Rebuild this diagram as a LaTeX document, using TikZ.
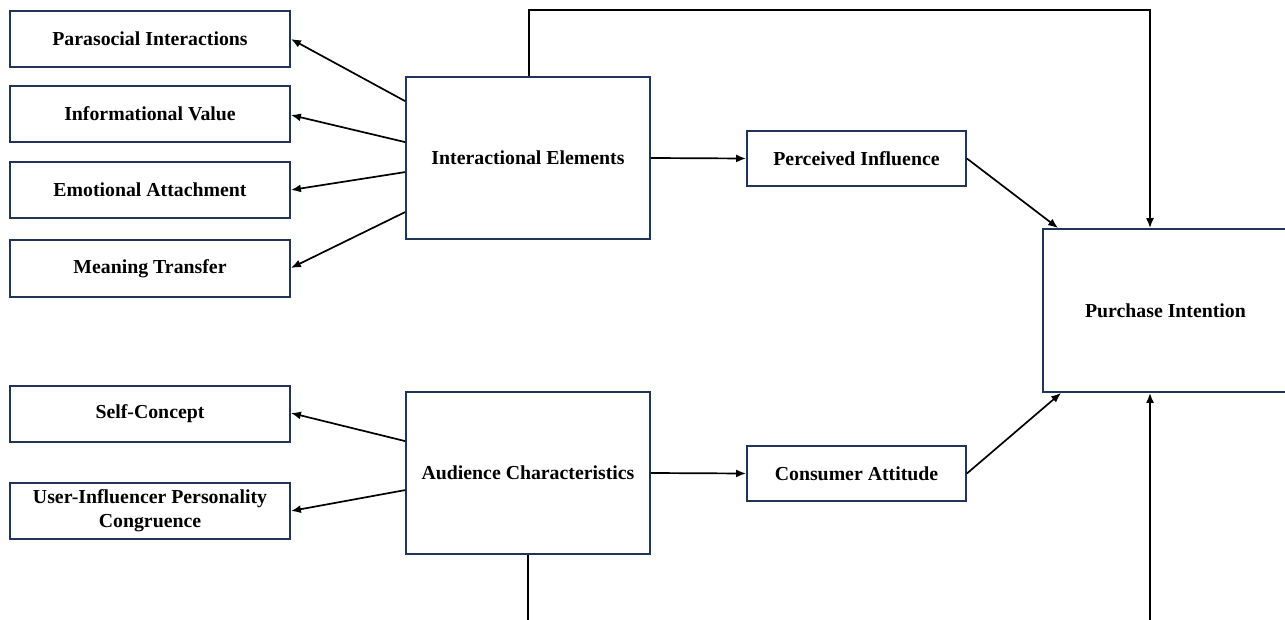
\documentclass[tikz,border=0pt]{standalone}
\usepackage{fontspec}
\setmainfont{Liberation Serif}
\usetikzlibrary{arrows.meta,calc}
\definecolor{boxline}{HTML}{1F3458}
\begin{document}
\begin{tikzpicture}[x=1pt,y=-1pt,
  box/.style={draw=boxline,line width=1.8pt,fill=white,inner sep=0pt,
    font=\fontsize{19.8}{24}\selectfont\bfseries,align=center},
  leftbox/.style={box,minimum width=280pt,minimum height=56pt},
  midbox/.style={box,minimum width=219pt,minimum height=55pt},
  bigbox/.style={box,minimum width=244pt,minimum height=162pt},
  arr/.style={line width=1.7pt,-{Latex[length=10pt,width=8pt]}}]
\useasboundingbox (0,0) rectangle (1285,620);
\fill[white] (0,0) rectangle (1285,620);

\node[leftbox] (par) at (150,39) {Parasocial Interactions};
\node[leftbox] (inf) at (150,114) {Informational Value};
\node[leftbox] (emo) at (150,190) {Emotional Attachment};
\node[leftbox,minimum height=57pt] (mea) at (150,268.5) {Meaning Transfer};
\node[leftbox] (self) at (150,414) {Self-Concept};
\node[leftbox] (uic) at (150,511) {User-Influencer Personality\\Congruence};

\node[bigbox] (ie) at (528,158) {Interactional Elements};
\node[bigbox] (ac) at (528,473) {Audience Characteristics};

\node[midbox] (pinf) at (856.5,158.5) {Perceived Influence};
\node[midbox] (ca) at (856.5,473.5) {Consumer Attitude};

\node[box,minimum width=245pt,minimum height=163pt] (pur) at (1165.5,310.5) {Purchase Intention};

\coordinate (tr) at (1150,10);
\coordinate (br) at (1150,620.5);

\draw[arr] ($(ie.north west)+(0,25)$) -- (par.east);
\draw[arr] ($(ie.north west)+(0,66)$) -- ($(inf.east)+(0,1)$);
\draw[arr] ($(ie.north west)+(0,96)$) -- (emo.east);
\draw[arr] ($(ie.north west)+(0,136)$) -- ($(mea.east)+(0,-0.5)$);

\draw[arr] ($(ac.north west)+(0,50)$) -- ($(self.east)+(0,-1)$);
\draw[arr] ($(ac.north west)+(0,99)$) -- (uic.east);

\draw[arr] (ie.east) -- (pinf.west);
\draw[arr] (ac.east) -- (ca.west);

\draw[arr] (pinf.east) -- ($(pur.north west)+(16,0)$);
\draw[arr] (ca.east) -- ($(pur.south west)+(19,0)$);

\draw[arr] ($(ie.north)+(1,0)$) |- (tr) -- (tr |- pur.north);
\draw[arr] (ac.south) |- (br) -- (br |- pur.south);
\end{tikzpicture}
\end{document}
